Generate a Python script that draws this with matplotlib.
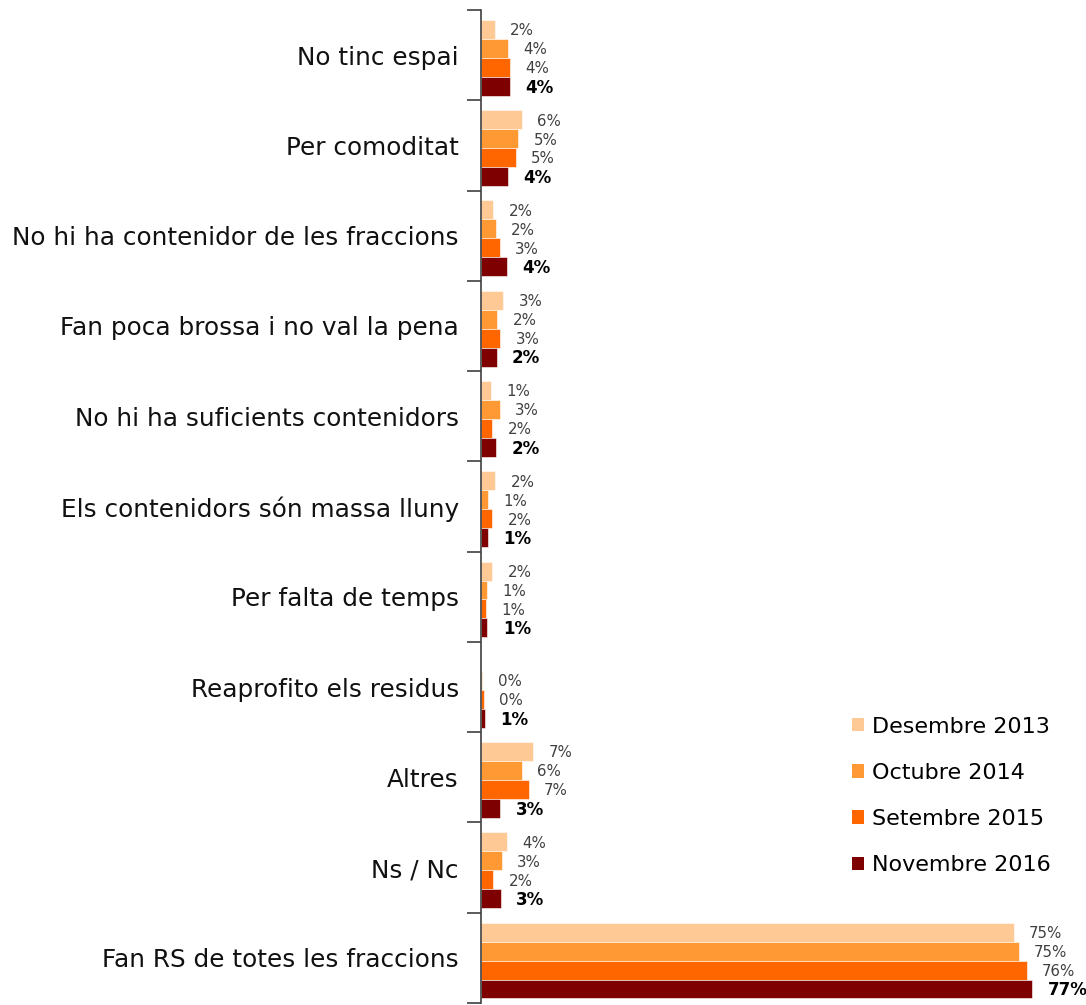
import numpy as np
import matplotlib
matplotlib.use("Agg")
import matplotlib.pyplot as plt
from matplotlib.patches import Patch

# Categories (top to bottom) and the four survey waves
categories = [
    "No tinc espai",
    "Per comoditat",
    "No hi ha contenidor de les fraccions",
    "Fan poca brossa i no val la pena",
    "No hi ha suficients contenidors",
    "Els contenidors són massa lluny",
    "Per falta de temps",
    "Reaprofito els residus",
    "Altres",
    "Ns / Nc",
    "Fan RS de totes les fraccions",
]
series_names = ["Desembre 2013", "Octubre 2014", "Setembre 2015", "Novembre 2016"]

des_2013 = [1.9, 5.7, 1.7, 3.1, 1.4, 2.0, 1.6, np.nan, 7.3, 3.6, 74.6]
oct_2014 = [3.8, 5.2, 2.1, 2.3, 2.6, 1.0, 0.9, 0.2, 5.7, 2.9, 75.3]
set_2015 = [4.0, 4.9, 2.6, 2.7, 1.6, 1.6, 0.7, 0.4, 6.7, 1.7, 76.4]
nov_2016 = [4.0, 3.8, 3.6, 2.2, 2.1, 1.0, 0.9, 0.6, 2.7, 2.8, 77.2]

colors = ["#FFC995", "#FF9933", "#FF6600", "#7F0000"]
series = [des_2013, oct_2014, set_2015, nov_2016]

fig = plt.figure(figsize=(10.86, 10.05), dpi=100)
ax = fig.add_axes([481 / 1086, 2 / 1005, 600 / 1086, 993 / 1005])

n = len(categories)
y = np.arange(n)
bar_h = 0.21

for k, (vals, col) in enumerate(zip(series, colors)):
    pos = y + (k - 1.5) * bar_h + 0.03
    ax.barh(pos, vals, height=bar_h, color=col, edgecolor="white", linewidth=0.4)
    bold = k == 3
    for p, v in zip(pos, vals):
        if np.isnan(v):
            continue
        ax.annotate(f"{v:.0f}%", (v, p), xytext=(11, -1), textcoords="offset points",
                    va="center", ha="left",
                    fontsize=12 if bold else 10.8,
                    fontweight="bold" if bold else "normal",
                    color="black" if bold else "#404040")

ax.set_ylim(n - 0.5, -0.5)
ax.set_xlim(0, 84)

ax.set_yticks(y)
ax.set_yticklabels(categories, fontsize=17.8, color="#111111")
ax.tick_params(axis="y", which="major", length=0, pad=16)
ax.set_yticks(np.arange(n + 1) - 0.5, minor=True)
ax.tick_params(axis="y", which="minor", length=10, width=1.2, color="#404040")

ax.set_xticks([])
for s in ["top", "right", "bottom"]:
    ax.spines[s].set_visible(False)
ax.spines["left"].set_color("#404040")
ax.spines["left"].set_linewidth(1.2)

handles = [Patch(facecolor=c, edgecolor="none") for c in colors]
ax.legend(handles, series_names, loc="upper left", bbox_to_anchor=(0.618, 0.2885),
          frameon=False, fontsize=16, handlelength=0.55, handleheight=0.55,
          handletextpad=0.35, labelspacing=1.18, borderpad=0, borderaxespad=0)

fig.savefig("out.png", dpi=100)
